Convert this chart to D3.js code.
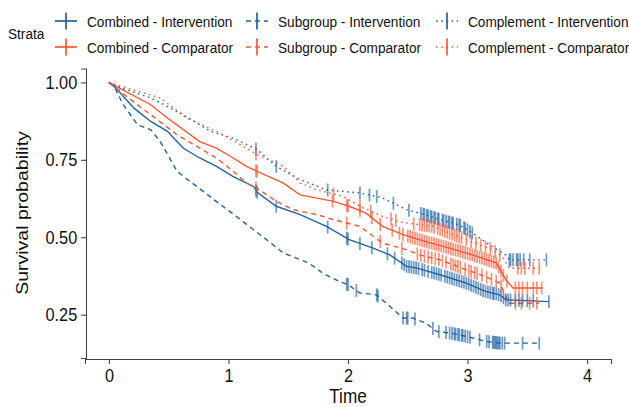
<!DOCTYPE html>
<html>
<head>
<meta charset="utf-8">
<script src="https://cdn.jsdelivr.net/npm/d3@7"></script>
<style>
  body { margin: 0; background: #fff; }
  svg { display: block; font-family: "Liberation Sans", Arial, sans-serif; }
</style>
</head>
<body>
<div id="chart"></div>
<script>
// strata names, as in the legend
const strata = [
  "Combined - Intervention", "Combined - Comparator",
  "Subgroup - Intervention", "Subgroup - Comparator",
  "Complement - Intervention", "Complement - Comparator"
];

// curves: time / survival pairs
const combIntT = [0, 0.05, 0.21, 0.35, 0.49, 0.62, 0.76, 0.90, 1.04, 1.21, 1.24, 1.40, 1.60, 1.82, 2.01, 2.21, 2.35, 2.49, 2.57, 2.77, 2.99, 3.15, 3.27, 3.32, 3.68];
const combIntS = [1, 0.985, 0.917, 0.874, 0.842, 0.788, 0.756, 0.729, 0.696, 0.664, 0.645, 0.600, 0.573, 0.535, 0.492, 0.465, 0.443, 0.406, 0.401, 0.379, 0.352, 0.325, 0.314, 0.298, 0.292];
const combCompT = [0, 0.05, 0.35, 0.49, 0.76, 0.90, 1.04, 1.15, 1.24, 1.46, 1.60, 1.88, 2.01, 2.15, 2.29, 2.45, 2.65, 2.85, 3.04, 3.24, 3.29, 3.32, 3.38, 3.63];
const combCompS = [1, 0.99, 0.928, 0.885, 0.809, 0.788, 0.756, 0.729, 0.713, 0.675, 0.637, 0.616, 0.600, 0.578, 0.535, 0.510, 0.486, 0.465, 0.443, 0.417, 0.384, 0.363, 0.336, 0.336];
const subIntT = [0, 0.04, 0.12, 0.24, 0.35, 0.43, 0.57, 0.68, 0.79, 0.90, 1.04, 1.21, 1.32, 1.46, 1.67, 1.79, 1.93, 2.00, 2.10, 2.24, 2.35, 2.46, 2.54, 2.65, 2.74, 2.85, 2.99, 3.15, 3.27, 3.60];
const subIntS = [1, 0.99, 0.928, 0.863, 0.847, 0.809, 0.713, 0.680, 0.648, 0.615, 0.575, 0.524, 0.492, 0.449, 0.417, 0.384, 0.357, 0.347, 0.320, 0.314, 0.277, 0.239, 0.239, 0.223, 0.196, 0.191, 0.180, 0.164, 0.158, 0.158];
const subCompT = [0, 0.20, 0.35, 0.57, 0.76, 0.90, 1.04, 1.15, 1.26, 1.40, 1.54, 1.74, 1.88, 2.10, 2.29, 2.49, 2.60, 2.77, 2.99, 3.15, 3.27, 3.32, 3.35, 3.60];
const subCompS = [1, 0.939, 0.896, 0.831, 0.788, 0.756, 0.713, 0.675, 0.653, 0.616, 0.589, 0.573, 0.557, 0.535, 0.481, 0.460, 0.443, 0.427, 0.395, 0.373, 0.352, 0.309, 0.287, 0.287];
const compIntT = [0, 0.10, 0.35, 0.62, 0.85, 1.04, 1.24, 1.40, 1.60, 1.82, 2.10, 2.29, 2.49, 2.60, 2.77, 2.93, 3.04, 3.18, 3.32, 3.35, 3.66];
const compIntS = [1, 0.982, 0.950, 0.896, 0.842, 0.820, 0.783, 0.729, 0.686, 0.653, 0.643, 0.627, 0.589, 0.578, 0.557, 0.540, 0.514, 0.476, 0.443, 0.427, 0.427];
const compCompT = [0, 0.15, 0.43, 0.65, 0.90, 1.10, 1.24, 1.46, 1.60, 1.74, 1.96, 2.10, 2.29, 2.45, 2.71, 2.99, 3.21, 3.29, 3.35, 3.60];
const compCompS = [1, 0.982, 0.950, 0.885, 0.842, 0.799, 0.767, 0.729, 0.675, 0.653, 0.632, 0.600, 0.567, 0.548, 0.535, 0.492, 0.460, 0.438, 0.400, 0.400];

// censoring times
const combIntCens = [1.23, 1.24, 1.40, 1.83, 1.99, 2.00, 2.10, 2.20, 2.33, 2.39, 2.45, 2.47, 2.49, 2.51, 2.53, 2.55, 2.57, 2.59, 2.62, 2.64, 2.67, 2.70, 2.72, 2.74, 2.76, 2.78, 2.81, 2.83, 2.85, 2.87, 2.89, 2.91, 2.93, 2.95, 2.97, 2.99, 3.01, 3.03, 3.05, 3.07, 3.09, 3.11, 3.13, 3.15, 3.17, 3.19, 3.21, 3.22, 3.24, 3.26, 3.28, 3.30, 3.32, 3.34, 3.36, 3.40, 3.43, 3.46, 3.50, 3.55, 3.68];
const combCompCens = [1.23, 1.24, 1.87, 1.99, 2.00, 2.10, 2.20, 2.27, 2.37, 2.43, 2.46, 2.50, 2.52, 2.54, 2.56, 2.58, 2.60, 2.62, 2.64, 2.66, 2.68, 2.70, 2.72, 2.74, 2.76, 2.78, 2.80, 2.82, 2.84, 2.86, 2.88, 2.90, 2.92, 2.94, 2.96, 2.98, 3.00, 3.02, 3.04, 3.06, 3.08, 3.10, 3.12, 3.14, 3.16, 3.18, 3.20, 3.22, 3.24, 3.26, 3.28, 3.30, 3.33, 3.40, 3.43, 3.46, 3.50, 3.55, 3.58, 3.62];
const subIntCens = [1.99, 2.00, 2.07, 2.24, 2.25, 2.46, 2.49, 2.50, 2.56, 2.71, 2.76, 2.82, 2.85, 2.87, 2.89, 2.90, 2.92, 2.93, 2.95, 2.96, 2.98, 3.00, 3.02, 3.10, 3.16, 3.18, 3.21, 3.22, 3.23, 3.24, 3.25, 3.26, 3.27, 3.29, 3.31, 3.46, 3.60];
const subCompCens = [1.23, 1.99, 2.27, 2.45, 2.58, 2.61, 2.64, 2.67, 2.70, 2.73, 2.76, 2.79, 2.82, 2.86, 2.88, 2.90, 2.92, 2.94, 2.98, 3.01, 3.03, 3.06, 3.08, 3.12, 3.16, 3.20, 3.24, 3.28, 3.40, 3.45, 3.52, 3.58];
const compIntCens = [1.23, 1.40, 1.83, 2.10, 2.18, 2.24, 2.38, 2.51, 2.61, 2.63, 2.64, 2.66, 2.67, 2.69, 2.70, 2.72, 2.73, 2.75, 2.76, 2.79, 2.80, 2.82, 2.84, 2.85, 2.87, 2.88, 2.91, 2.93, 2.94, 2.97, 2.98, 3.00, 3.02, 3.04, 3.35, 3.36, 3.38, 3.41, 3.42, 3.44, 3.47, 3.52, 3.66];
const compCompCens = [1.23, 1.88, 2.10, 2.19, 2.36, 2.40, 2.55, 2.60, 2.62, 2.64, 2.66, 2.68, 2.70, 2.72, 2.75, 2.77, 2.79, 2.81, 2.83, 2.85, 2.87, 2.89, 2.91, 2.93, 2.95, 2.99, 3.03, 3.07, 3.11, 3.15, 3.19, 3.23, 3.27, 3.42, 3.45, 3.48, 3.55, 3.60];

const xTicks = [0, 1, 2, 3, 4];
const yTicks = [0.25, 0.50, 0.75, 1.00];

const blue = "#1f62a5", orange = "#ff5630";
const sx = 0.88; // the picture is a bit squeezed sideways

const series = [
  {name: strata[0], t: combIntT, s: combIntS, cens: combIntCens, color: blue, dash: null},
  {name: strata[1], t: combCompT, s: combCompS, cens: combCompCens, color: orange, dash: null},
  {name: strata[2], t: subIntT, s: subIntS, cens: subIntCens, color: blue, dash: "5,4"},
  {name: strata[3], t: subCompT, s: subCompS, cens: subCompCens, color: orange, dash: "5,4"},
  {name: strata[4], t: compIntT, s: compIntS, cens: compIntCens, color: blue, dash: "1.6,3.6"},
  {name: strata[5], t: compCompT, s: compCompS, cens: compCompCens, color: orange, dash: "1.6,3.6"}
];

const width = 629, height = 407;
const svg = d3.select("#chart").append("svg")
  .attr("width", width).attr("height", height);

const x = d3.scaleLinear().domain([-0.2, 4.2]).range([85, 611]);
const y = d3.scaleLinear().domain([0.11, 1.045]).range([358, 68.5]);

// axes
const xAxis = d3.axisBottom(x).tickValues(xTicks).tickSizeOuter(0).tickSize(5).tickPadding(5)
  .tickFormat(d3.format("d"));
const yAxis = d3.axisLeft(y).tickValues(yTicks).tickSizeOuter(0).tickSize(5).tickPadding(5)
  .tickFormat(d3.format(".2f"));

const gx = svg.append("g").attr("transform", "translate(0,359)").call(xAxis);
const gy = svg.append("g").attr("transform", "translate(86,0)").call(yAxis);
[gx, gy].forEach((g) => {
  g.select(".domain").attr("stroke", "#444").attr("stroke-width", 1.1);
  g.selectAll(".tick line").attr("stroke", "#444").attr("stroke-width", 1.1);
  g.selectAll(".tick text").attr("fill", "#111").style("font-size", "18.5px")
    .attr("transform", `scale(${sx},1)`);
});

svg.append("text")
  .attr("transform", `translate(348,403) scale(${sx},1)`)
  .attr("text-anchor", "middle").style("font-size", "19.5px").attr("fill", "#111")
  .text("Time");
svg.append("text")
  .attr("transform", `translate(28,213) scale(${sx},1) rotate(-90)`)
  .attr("text-anchor", "middle").style("font-size", "19.5px").attr("fill", "#111")
  .text("Survival probability");

// curves
const line = d3.line().x((d) => x(d[0])).y((d) => y(d[1]));
const plot = svg.append("g");

series.forEach((se) => {
  plot.append("path")
    .datum(se.t.map((t, i) => [t, se.s[i]]))
    .attr("d", line)
    .attr("fill", "none")
    .attr("stroke", se.color)
    .attr("stroke-width", 1.4)
    .attr("stroke-dasharray", se.dash);
});

// survival level at a censor time
function levelAt(se, c) {
  const i = d3.bisectRight(se.t, c);
  if (i <= 0) return se.s[0];
  if (i >= se.t.length) return se.s[se.t.length - 1];
  const t0 = se.t[i - 1], t1 = se.t[i];
  return se.s[i - 1] + (se.s[i] - se.s[i - 1]) * (c - t0) / (t1 - t0);
}

series.forEach((se) => {
  plot.append("g").selectAll("line")
    .data(se.cens)
    .enter()
    .append("line")
    .attr("x1", (d) => x(d)).attr("x2", (d) => x(d))
    .attr("y1", (d) => y(levelAt(se, d)) - 6.5)
    .attr("y2", (d) => y(levelAt(se, d)) + 6.5)
    .attr("stroke", se.color)
    .attr("stroke-width", 1.7)
    .attr("stroke-opacity", 0.65);
});

// legend
const legend = svg.append("g");
legend.append("text")
  .attr("transform", `translate(8,39) scale(${sx},1)`)
  .style("font-size", "15.5px").attr("fill", "#111")
  .text("Strata");

const keyX = [66, 257, 447];
const rowY = [21, 47];
series.forEach((se, i) => {
  const cx = keyX[Math.floor(i / 2)], cy = rowY[i % 2];
  const k = legend.append("g");
  k.append("line")
    .attr("x1", cx - 11).attr("x2", cx + 11).attr("y1", cy).attr("y2", cy)
    .attr("stroke", se.color).attr("stroke-width", 1.7)
    .attr("stroke-dasharray", se.dash);
  k.append("line")
    .attr("x1", cx).attr("x2", cx).attr("y1", cy - 8.5).attr("y2", cy + 8.5)
    .attr("stroke", se.color).attr("stroke-width", 1.7);
  legend.append("text")
    .attr("transform", `translate(${cx + 21},${cy + 5.5}) scale(${sx},1)`)
    .style("font-size", "15.5px").attr("fill", "#111")
    .text(se.name);
});
</script>
</body>
</html>
